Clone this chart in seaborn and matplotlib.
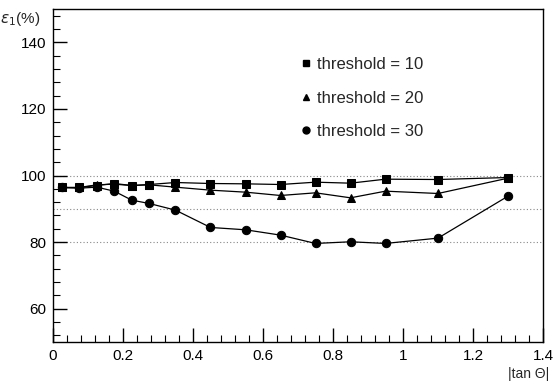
import matplotlib
matplotlib.use("Agg")
import matplotlib.pyplot as plt
from matplotlib.lines import Line2D
from matplotlib.ticker import MultipleLocator
import seaborn as sns
import pandas as pd

tan_theta = [0.025, 0.075, 0.125, 0.175, 0.225, 0.275, 0.35, 0.45, 0.55, 0.65, 0.75, 0.85, 0.95, 1.1, 1.3]
eff_thr10 = [96.4, 96.4, 97.0, 97.6, 97.0, 97.3, 97.9, 97.6, 97.5, 97.3, 98.0, 97.7, 98.9, 98.8, 99.4]
eff_thr20 = [96.4, 96.4, 97.2, 97.4, 97.0, 97.2, 96.5, 95.6, 95.0, 94.0, 94.8, 93.3, 95.3, 94.6, 99.2]
eff_thr30 = [96.4, 96.2, 96.5, 95.3, 92.6, 91.6, 89.6, 84.4, 83.7, 82.1, 79.6, 80.1, 79.6, 81.2, 93.8]
labels = ["threshold = 10", "threshold = 20", "threshold = 30"]
grid_levels = [100, 90, 80]

sns.set_theme(style="white")
plt.rcParams['font.family'] = ['Liberation Sans', 'DejaVu Sans']

df = pd.concat([
    pd.DataFrame({"x": tan_theta, "y": eff_thr10, "s": labels[0]}),
    pd.DataFrame({"x": tan_theta, "y": eff_thr20, "s": labels[1]}),
    pd.DataFrame({"x": tan_theta, "y": eff_thr30, "s": labels[2]}),
])

fig = plt.figure(figsize=(5.59, 3.83), dpi=100)
ax = fig.add_axes([0.0948, 0.107, 0.8766, 0.8695])

for g in grid_levels:
    ax.axhline(g, color="#888888", linestyle=(0, (1, 2)), linewidth=0.8, zorder=0)

markers = {labels[0]: "s", labels[1]: "^", labels[2]: "o"}
sizes = {labels[0]: 5.5, labels[1]: 5.5, labels[2]: 6}
for lab in labels:
    sub = df[df["s"] == lab]
    sns.lineplot(data=sub, x="x", y="y", ax=ax, color="black", linewidth=0.9,
                 marker=markers[lab], markersize=sizes[lab], markeredgecolor="black",
                 markerfacecolor="black", legend=False)

ax.set_xlim(0, 1.4)
ax.set_ylim(50, 150)
ax.xaxis.set_minor_locator(MultipleLocator(0.04))
ax.yaxis.set_minor_locator(MultipleLocator(4))
ax.set_xticks([0, 0.2, 0.4, 0.6, 0.8, 1.0, 1.2, 1.4])
ax.set_xticklabels(["0", "0.2", "0.4", "0.6", "0.8", "1", "1.2", "1.4"])
ax.set_yticks([60, 80, 100, 120, 140])
ax.tick_params(axis="both", which="major", direction="in", length=10, width=1,
               labelsize=11, color="black", labelcolor="black", pad=5)
ax.tick_params(axis="both", which="minor", direction="in", length=5, width=0.8, color="black")
ax.tick_params(top=False, right=False, which="both")
ax.tick_params(axis="x", which="both", bottom=True)
ax.tick_params(axis="y", which="both", left=True)
for sp in ax.spines.values():
    sp.set_color("black")
    sp.set_linewidth(1.0)

ax.set_xlabel("")
ax.set_ylabel("")
fig.text(0.0, 0.975, r"$\varepsilon_1$(%)", fontsize=11, ha="left", va="top")
fig.text(0.982, 0.005, "|tan Θ|", fontsize=10, ha="right", va="bottom")

handles = [Line2D([], [], linestyle="none", marker=markers[l], color="black",
                  markersize=5) for l in labels]
ax.legend(handles, labels, loc="upper left", bbox_to_anchor=(0.468, 0.90),
          frameon=False, fontsize=12, handletextpad=0.2, labelspacing=1.1,
          handlelength=1.0)

fig.savefig("out.png", dpi=100)
